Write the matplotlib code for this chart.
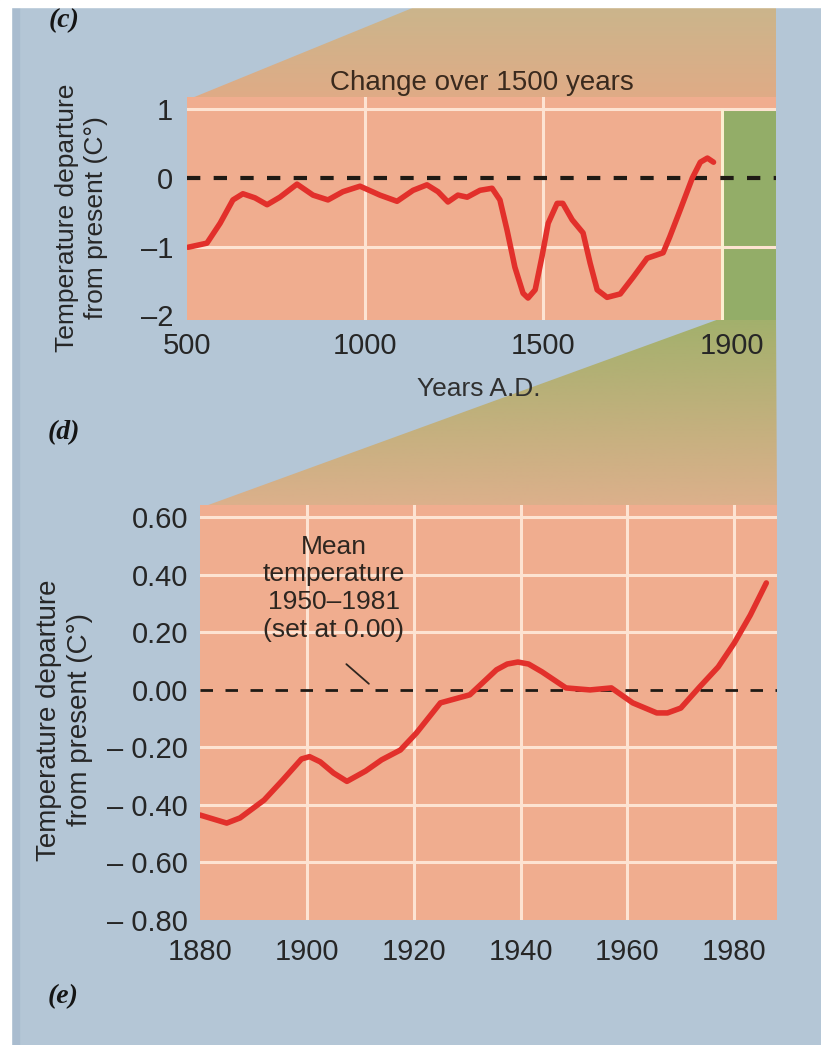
import numpy as np
import matplotlib
matplotlib.use('Agg')
import matplotlib.pyplot as plt
from matplotlib.patches import Polygon, Rectangle
from matplotlib.colors import LinearSegmentedColormap

plt.rcParams['font.family'] = ['Liberation Sans', 'DejaVu Sans']

# (d) change over 1500 years
top_years = [503, 556, 593, 629, 657, 691, 725, 761, 809, 854,
             896, 938, 986, 1042, 1090, 1135, 1174, 1205, 1233, 1261,
             1287, 1323, 1357, 1379, 1399, 1421, 1444, 1458, 1478, 1497,
             1511, 1530, 1542, 1562, 1585, 1600, 1615, 1636, 1664, 1691,
             1721, 1755, 1769, 1791, 1817, 1834, 1849, 1862]
top_temps = [-1.01, -0.95, -0.66, -0.32, -0.23, -0.29, -0.39, -0.28, -0.09, -0.25,
             -0.32, -0.20, -0.12, -0.25, -0.34, -0.18, -0.10, -0.20, -0.35, -0.25,
             -0.28, -0.18, -0.15, -0.32, -0.76, -1.30, -1.68, -1.75, -1.63, -1.15,
             -0.66, -0.37, -0.37, -0.61, -0.80, -1.24, -1.63, -1.74, -1.69, -1.45,
             -1.17, -1.09, -0.86, -0.47, 0.0, 0.23, 0.29, 0.23]
top_xticks = [500, 1000, 1500, 1900]
top_xlabels = ['500', '1000', '1500', '1900']
top_yticks = [1, 0, -1, -2]
top_ylabels = ['1', '0', '\u20131', '\u20132']

# (e) 1880-1986
bot_years = [1880, 1885, 1887.5, 1892, 1895.5, 1899, 1900.5, 1902.5, 1905, 1907.5,
             1911, 1914, 1917.5, 1920.5, 1925, 1930.5, 1935.5, 1937.5, 1939.5, 1941.5,
             1944, 1948.5, 1953, 1957, 1961, 1965.5, 1967.5, 1970, 1973.5, 1977,
             1980, 1983, 1986]
bot_temps = [-0.435, -0.463, -0.445, -0.383, -0.313, -0.24, -0.232, -0.25, -0.289, -0.318,
             -0.282, -0.243, -0.209, -0.15, -0.045, -0.017, 0.07, 0.09, 0.097, 0.09,
             0.063, 0.007, 0.0, 0.007, -0.045, -0.08, -0.08, -0.063, 0.01, 0.08,
             0.163, 0.26, 0.372]
bot_xticks = [1880, 1900, 1920, 1940, 1960, 1980]
bot_yticks = [0.6, 0.4, 0.2, 0.0, -0.2, -0.4, -0.6, -0.8]
bot_ylabels = ['0.60', '0.40', '0.20', '0.00', '\u2013 0.20', '\u2013 0.40', '\u2013 0.60', '\u2013 0.80']

BLUE = '#b4c6d6'
SALMON = '#f0ad8f'
GREEN = '#93ad68'
RED = '#e2302b'
GRID = '#fde3d2'
TXT = '#262626'

W, H = 821, 1045
TOP = dict(l=187, r=776, t=97, b=320)
BOT = dict(l=200, r=777, t=505, b=920)


def px_rect(p):
    return [p['l'] / W, 1 - p['b'] / H, (p['r'] - p['l']) / W, (p['b'] - p['t']) / H]


def gradient_poly(ax, verts, c_top, c_bot):
    poly = Polygon(verts, closed=True, facecolor='none', edgecolor='none')
    ax.add_patch(poly)
    xs = [v[0] for v in verts]
    ys = [v[1] for v in verts]
    cmap = LinearSegmentedColormap.from_list('g', [c_top, c_bot])
    grad = np.linspace(0, 1, 256).reshape(-1, 1)
    im = ax.imshow(grad, cmap=cmap, aspect='auto', origin='upper',
                   extent=[min(xs), max(xs), max(ys), min(ys)], zorder=1)
    im.set_clip_path(poly)


# the top axis is stretched after 1500 in the original drawing
brk_years = [500, 1500, 1880, 1985]
brk_pos = [0, 356, 535, 589]
fwd = lambda x: np.interp(x, brk_years, brk_pos, left=-1e9, right=1e9)
inv = lambda p: np.interp(p, brk_pos, brk_years)

fig = plt.figure(figsize=(W / 100, H / 100), dpi=100, facecolor=BLUE)
bg = fig.add_axes([0, 0, 1, 1], zorder=0)
bg.set_facecolor(BLUE)

green_l = TOP['l'] + (fwd(1880) - fwd(500)) / (fwd(1985) - fwd(500)) * (TOP['r'] - TOP['l'])
gradient_poly(bg, [(TOP['l'], TOP['t'] + 3), (432, 0), (TOP['r'], 0), (TOP['r'], TOP['t'] + 3)],
              '#c9b68c', '#e0ab86')
gradient_poly(bg, [(green_l, TOP['b'] - 2), (TOP['r'], TOP['b'] - 2), (BOT['r'], BOT['t'] + 3), (BOT['l'], BOT['t'] + 3)],
              '#a2b06c', '#ddb08c')
bg.add_patch(Rectangle((11, 0), 8, H, color='#a9bccf', zorder=2))
letter_font = dict(family=['Liberation Serif', 'DejaVu Serif'], weight='bold', style='italic',
                   fontsize=20, ha='center', va='center', color='#151515', zorder=3)
bg.text(64, 21, '(c)', **letter_font)
bg.text(64, 433, '(d)', **letter_font)
bg.text(63, 997, '(e)', **letter_font)
bg.add_patch(Rectangle((0, 0), W, 7, color='white', zorder=10))
bg.add_patch(Rectangle((0, 0), 11, H, color='white', zorder=10))
bg.set_xlim(0, W)
bg.set_ylim(H, 0)
bg.axis('off')

# ---- panel (d)
ax1 = fig.add_axes(px_rect(TOP), zorder=2)
ax1.set_facecolor(SALMON)
ax1.set_xscale('function', functions=(fwd, inv))
y_lo, y_hi = -2.07, 1.18
ax1.fill_between([1880, 1985], y_lo, 1, color=GREEN, lw=0, zorder=1)
for y in [1, -1]:
    ax1.axhline(y, color=GRID, lw=2.2, zorder=2)
for x in [1000, 1500]:
    ax1.axvline(x, color=GRID, lw=2.2, zorder=2)
ax1.vlines(1880, y_lo, 1, color='#fbeed0', lw=2.2, zorder=2)
ax1.axhline(0, color='#1f1a15', lw=3, dashes=(3.2, 3.2), zorder=3)
ax1.plot(top_years, top_temps, color=RED, lw=4, solid_joinstyle='round',
         solid_capstyle='round', zorder=5)
ax1.set_xlim(500, 1985)
ax1.set_ylim(y_lo, y_hi)
ax1.set_xticks(top_xticks, labels=top_xlabels)
ax1.set_yticks(top_yticks, labels=top_ylabels)
ax1.tick_params(axis='x', length=0, pad=9, labelsize=21, labelcolor=TXT)
ax1.tick_params(axis='y', length=0, pad=10, labelsize=21, labelcolor=TXT)
for s in ax1.spines.values():
    s.set_visible(False)
ax1.set_title('Change over 1500 years', fontsize=20, pad=5, color='#3a2a1e')
ax1.set_xlabel('Years A.D.', fontsize=19, color='#303030')
ax1.xaxis.set_label_coords(0.496, -0.255)
ax1.set_ylabel('Temperature departure\nfrom present (C\u00b0)', fontsize=19, linespacing=1.25, color=TXT)
ax1.yaxis.set_label_coords(-0.134, 0.46)

# ---- panel (e)
ax2 = fig.add_axes(px_rect(BOT), zorder=2)
ax2.set_facecolor(SALMON)
for y in bot_yticks:
    if y not in (0.0, -0.8):
        ax2.axhline(y, color=GRID, lw=2.2, zorder=2)
for x in bot_xticks[1:]:
    ax2.axvline(x, color=GRID, lw=2.2, zorder=2)
ax2.axhline(0, color='#1f1a15', lw=2, dashes=(4.5, 4.5), zorder=3)
ax2.plot(bot_years, bot_temps, color=RED, lw=4, solid_joinstyle='round',
         solid_capstyle='round', zorder=5)
ax2.text(1905, 0.54, 'Mean\ntemperature\n1950\u20131981\n(set at 0.00)', ha='center', va='top',
         fontsize=19, linespacing=1.2, color='#2e2620', zorder=6)
ax2.annotate('', xy=(1912, 0.015), xytext=(1907, 0.096),
             arrowprops=dict(arrowstyle='-', color='#2e2620', lw=1.3), zorder=6)
ax2.set_xlim(1880, 1988)
ax2.set_ylim(-0.80, 0.643)
ax2.set_xticks(bot_xticks, labels=[str(x) for x in bot_xticks])
ax2.set_yticks(bot_yticks, labels=bot_ylabels)
ax2.tick_params(axis='x', length=0, pad=13, labelsize=21, labelcolor=TXT)
ax2.tick_params(axis='y', length=0, pad=8.5, labelsize=21, labelcolor=TXT)
for s in ax2.spines.values():
    s.set_visible(False)
ax2.set_ylabel('Temperature departure\nfrom present (C\u00b0)', fontsize=20, linespacing=1.25, color=TXT)
ax2.yaxis.set_label_coords(-0.185, 0.482)

fig.savefig('out.png', dpi=100, facecolor=BLUE)
